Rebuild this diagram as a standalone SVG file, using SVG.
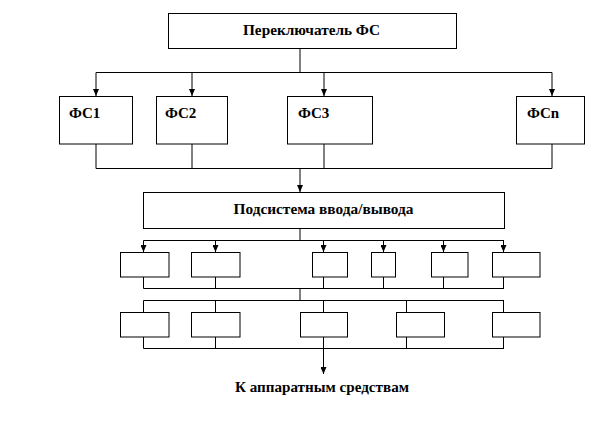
<svg xmlns="http://www.w3.org/2000/svg" width="612" height="422" viewBox="0 0 612 422">
<style>
.box{fill:#fff;stroke:#000;stroke-width:1}
.ln{fill:none;stroke:#000;stroke-width:1}
.t{font-family:'Liberation Serif','DejaVu Serif','Times New Roman',serif;font-weight:bold;font-size:15px;fill:#000}
</style>
<defs>
<marker id="ah" markerWidth="7" markerHeight="6" refX="7" refY="3" orient="auto" markerUnits="userSpaceOnUse" viewBox="0 0 7 6">
<path d="M0,0 L7,3 L0,6 Z" fill="#000"/>
</marker>
</defs>
<rect width="612" height="422" fill="#fff"/>
<g id="connectors">
<path class="ln" d="M300,48.5 V72.5 M96,72.5 H552"/>
<path class="ln" d="M96,72.5 V96" marker-end="url(#ah)"/>
<path class="ln" d="M192,72.5 V96" marker-end="url(#ah)"/>
<path class="ln" d="M324,72.5 V96" marker-end="url(#ah)"/>
<path class="ln" d="M552,72.5 V96" marker-end="url(#ah)"/>
<path class="ln" d="M96,144 V168.5 M192,144 V168.5 M324,144 V168.5 M552,144 V168.5 M96,168.5 H552"/>
<path class="ln" d="M300,168.5 V192" marker-end="url(#ah)"/>
<path class="ln" d="M300,228.5 V240.5 M143.5,240.5 H504"/>
<path class="ln" d="M143.5,240.5 V252" marker-end="url(#ah)"/>
<path class="ln" d="M215.5,240.5 V252" marker-end="url(#ah)"/>
<path class="ln" d="M323.5,240.5 V252" marker-end="url(#ah)"/>
<path class="ln" d="M383.5,240.5 V252" marker-end="url(#ah)"/>
<path class="ln" d="M443.5,240.5 V252" marker-end="url(#ah)"/>
<path class="ln" d="M503.5,240.5 V252" marker-end="url(#ah)"/>
<path class="ln" d="M143.5,277 V288.5 M215.5,277 V288.5 M323.5,277 V288.5 M383.5,277 V288.5 M443.5,277 V288.5 M503.5,277 V288.5 M143.5,288.5 H504"/>
<path class="ln" d="M300,288.5 V300.5 M143.5,300.5 H504 M143.5,300.5 V312.5 M215.5,300.5 V312.5 M323.5,300.5 V312.5 M406.5,300.5 V312.5 M503.5,300.5 V312.5"/>
<path class="ln" d="M143.5,337 V348.5 M215.5,337 V348.5 M323.5,337 V348.5 M406.5,337 V348.5 M503.5,337 V348.5 M143.5,348.5 H504"/>
<path class="ln" d="M323.5,348.5 V374" marker-end="url(#ah)"/>
</g>
<g id="switch">
<rect class="box" x="168.5" y="13.5" width="288" height="35"/>
<text class="t" x="311.5" y="35" text-anchor="middle" textLength="137" lengthAdjust="spacingAndGlyphs">Переключатель ФС</text>
</g>
<g id="fs1">
<rect class="box" x="59.5" y="96.5" width="73" height="47.5"/>
<text class="t" x="69" y="118">ФС1</text>
</g>
<g id="fs2">
<rect class="box" x="156.5" y="96.5" width="71" height="47.5"/>
<text class="t" x="165" y="118">ФС2</text>
</g>
<g id="fs3">
<rect class="box" x="287.5" y="96.5" width="85" height="47.5"/>
<text class="t" x="298" y="118">ФС3</text>
</g>
<g id="fsn">
<rect class="box" x="516.5" y="96.5" width="68" height="47.5"/>
<text class="t" x="527" y="118">ФСn</text>
</g>
<g id="io">
<rect class="box" x="143.5" y="192.5" width="361" height="36"/>
<text class="t" x="323.5" y="214" text-anchor="middle" textLength="180" lengthAdjust="spacingAndGlyphs">Подсистема ввода/вывода</text>
</g>
<g id="r1b1"><rect class="box" x="120.5" y="252.5" width="48.5" height="24.5"/></g>
<g id="r1b2"><rect class="box" x="191.5" y="252.5" width="48.5" height="24.5"/></g>
<g id="r1b3"><rect class="box" x="312.5" y="252.5" width="35" height="24.5"/></g>
<g id="r1b4"><rect class="box" x="371.5" y="252.5" width="24" height="24.5"/></g>
<g id="r1b5"><rect class="box" x="431.5" y="252.5" width="36.5" height="24.5"/></g>
<g id="r1b6"><rect class="box" x="492.5" y="252.5" width="47.5" height="24.5"/></g>
<g id="r2b1"><rect class="box" x="120.5" y="312.5" width="48.5" height="24.5"/></g>
<g id="r2b2"><rect class="box" x="191.5" y="312.5" width="48.5" height="24.5"/></g>
<g id="r2b3"><rect class="box" x="300.5" y="312.5" width="47" height="24.5"/></g>
<g id="r2b4"><rect class="box" x="396.5" y="312.5" width="48" height="24.5"/></g>
<g id="r2b5"><rect class="box" x="492.5" y="312.5" width="47.5" height="24.5"/></g>
<g id="hw">
<text class="t" x="322" y="392" text-anchor="middle" textLength="174" lengthAdjust="spacingAndGlyphs">К аппаратным средствам</text>
</g>
</svg>
